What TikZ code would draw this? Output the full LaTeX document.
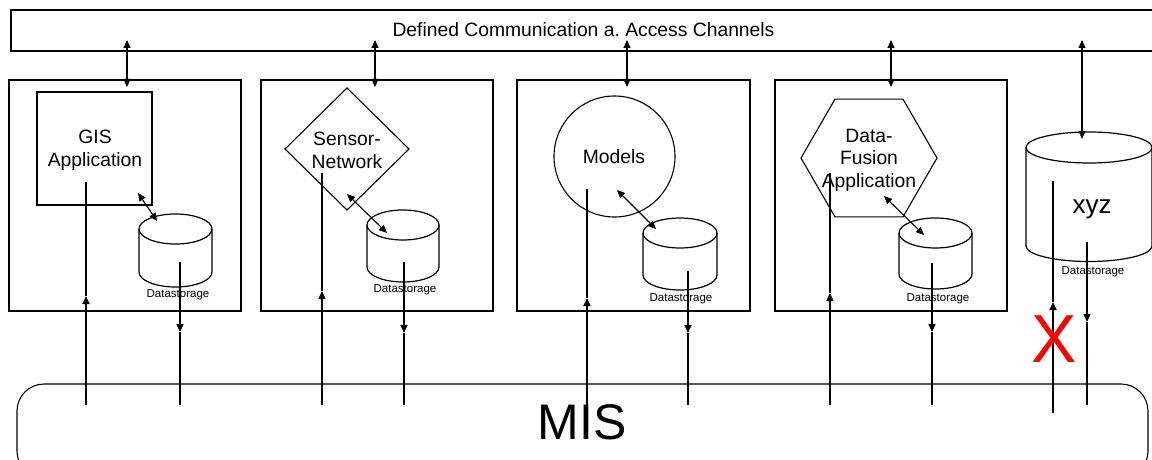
\documentclass[tikz,border=0pt]{standalone}
\usepackage{fontspec}
\setmainfont{Liberation Sans}
\usetikzlibrary{shapes.geometric,arrows.meta}
\newcommand{\dbcyl}[6]{% name, cx, ytop, ybot, rx, ry
  \coordinate (#1) at (#2,{(#3+#4)/2});
  \draw[cylline] (#2-#5,#3) -- (#2-#5,#4) arc[start angle=180,end angle=360,x radius=#5pt,y radius=#6pt] -- (#2+#5,#3);
  \draw[cylline] (#2,#3) ellipse[x radius=#5pt,y radius=#6pt];}
\begin{document}
\begin{tikzpicture}[x=1pt,y=-1pt,
  >={Triangle[length=8pt,width=7pt]},
  box/.style={draw, line width=1.1pt, inner sep=0pt, outer sep=0pt},
  cylline/.style={line width=1.2pt},
  lbl/.style={font=\fontsize{19.3}{23}\selectfont, align=center, inner sep=0pt},
  small/.style={font=\fontsize{11.5}{13}\selectfont, inner sep=0pt},
  dbl/.style={line width=1.1pt,<->},
  thinline/.style={line width=1.3pt},
  thickline/.style={line width=1.9pt}]
\useasboundingbox (0,0) rectangle (1152,460);
\clip (0,0) rectangle (1152,460);

% top channel bar
\node[box, minimum width=1145pt, minimum height=41pt] (bar) at (583.5,30.5) {};
\node[lbl] (bartext) at (583.5,30) {Defined Communication a.\ Access Channels};

% component boxes
\node[box, minimum width=232pt, minimum height=231pt] (b1) at (125,195.5) {};
\node[box, minimum width=232pt, minimum height=231pt] (b2) at (377,195.5) {};
\node[box, minimum width=233pt, minimum height=231pt] (b3) at (633.5,195.5) {};
\node[box, minimum width=232pt, minimum height=231pt] (b4) at (891,195.5) {};

% inner shapes
\node[box, minimum width=115pt, minimum height=113pt] (gis) at (94.5,148.5) {};
\node[lbl] (gistext) at (95,150) {GIS\\Application};
\node[box, diamond, minimum width=124pt, minimum height=122pt] (sensor) at (347,149) {};
\node[lbl] (sensortext) at (347,150) {Sensor-\\Network};
\node[box, circle, minimum size=121pt] (models) at (614.5,156.5) {};
\node[lbl] (modelstext) at (614,157) {Models};
\node[box, regular polygon, regular polygon sides=6, minimum size=136pt] (fusion) at (869,158) {};
\node[lbl, font=\fontsize{19.3}{22.5}\selectfont] (fusiontext) at (869,160) {Data-\\Fusion\\Application};

% data storages
\dbcyl{ds1}{175.5}{229}{272}{36.5}{15}
\node[small] (ds1t) at (178,295) {Datastorage};
\dbcyl{ds2}{403}{225}{267}{36}{15}
\node[small] (ds2t) at (405,290) {Datastorage};
\dbcyl{ds3}{680}{233}{275}{37}{15}
\node[small] (ds3t) at (681,299) {Datastorage};
\dbcyl{ds4}{935.5}{233}{274}{36.5}{15}
\node[small] (ds4t) at (938,299) {Datastorage};
\dbcyl{xyz}{1089}{147.5}{246}{63}{15.5}
\node[font=\fontsize{26}{30}\selectfont, inner sep=0pt] (xyzt) at (1092,209) {xyz};
\node[small] (xyzds) at (1093,272) {Datastorage};

% MIS
\draw[line width=1.1pt, rounded corners=27pt] (17,384) rectangle (1148,478);
\node[font=\fontsize{50}{55}\selectfont, inner sep=0pt] (mis) at (582,422) {MIS};

% connector end points
\path (127,40) coordinate (a1t) (127,87) coordinate (a1b)
      (375,40) coordinate (a2t) (375,87) coordinate (a2b)
      (627,40) coordinate (a3t) (627,87) coordinate (a3b)
      (891,40) coordinate (a4t) (891,87) coordinate (a4b)
      (1082,40) coordinate (a5t) (1082,139) coordinate (a5b)
      (138,193) coordinate (c1a) (157,221) coordinate (c1b)
      (347,194) coordinate (c2a) (387,233) coordinate (c2b)
      (617,190) coordinate (c3a) (656,229) coordinate (c3b)
      (884,196) coordinate (c4a) (924,235) coordinate (c4b)
      (86,405) coordinate (u1s) (86,296) coordinate (u1m) (86,182) coordinate (u1e)
      (322,405) coordinate (u2s) (322,291) coordinate (u2m) (322,173) coordinate (u2e)
      (587,405) coordinate (u3s) (587,298) coordinate (u3m) (587,189) coordinate (u3e)
      (830,405) coordinate (u4s) (830,293) coordinate (u4m) (830,173) coordinate (u4e)
      (1053,413) coordinate (u5s) (1053,302) coordinate (u5m) (1053,181) coordinate (u5e)
      (180,262) coordinate (d1s) (180,332) coordinate (d1m) (180,405) coordinate (d1e)
      (404,262) coordinate (d2s) (404,333) coordinate (d2m) (404,405) coordinate (d2e)
      (688,271) coordinate (d3s) (688,333) coordinate (d3m) (688,405) coordinate (d3e)
      (932,263) coordinate (d4s) (932,332) coordinate (d4m) (932,405) coordinate (d4e)
      (1087,242) coordinate (d5s) (1087,322) coordinate (d5m) (1087,405) coordinate (d5e);

% channel arrows
\foreach \i in {1,...,5} \draw[dbl] (a\i t) -- (a\i b);
% shape <-> storage
\foreach \i in {1,...,4} \draw[dbl] (c\i a) -- (c\i b);
% up connectors from MIS
\draw[thickline,->] (u1s) -- (u1m); \draw[thickline] (u1m) -- (u1e);
\draw[thinline,->] (u2s) -- (u2m); \draw[thinline] (u2m) -- (u2e);
\draw[thickline,->] (u3s) -- (u3m); \draw[thickline] (u3m) -- (u3e);
\draw[thinline,->] (u4s) -- (u4m); \draw[thinline] (u4m) -- (u4e);
\draw[thickline,->] (u5s) -- (u5m); \draw[thickline] (u5m) -- (u5e);
% down connectors to MIS
\foreach \i in {1,...,5} {\draw[thinline,->] (d\i s) -- (d\i m); \draw[thinline] (d\i m) -- (d\i e);}

% red cross
\node[font=\fontsize{68}{70}\selectfont, text=red, inner sep=0pt] (cross) at (1054,339) {X};
\end{tikzpicture}
\end{document}
